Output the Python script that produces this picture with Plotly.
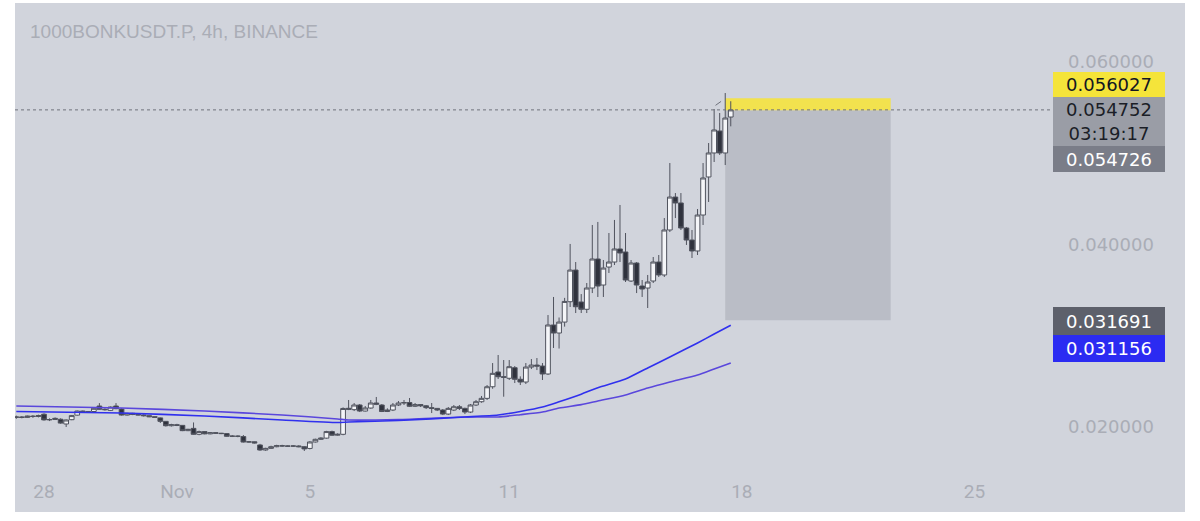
import pandas as pd
import plotly.graph_objects as go

# ---------------- data ----------------
times = pd.date_range("2024-10-27 04:00", periods=130, freq="4h")

opens = [0.02105,0.02110,0.02105,0.02120,0.02115,0.02140,0.02078,0.02082,0.02085,0.02033,
         0.02080,0.02130,0.02175,0.02166,0.02170,0.02230,0.02194,0.02182,0.02230,0.02197,
         0.02131,0.02150,0.02139,0.02132,0.02124,0.02113,0.02100,0.02062,0.02014,0.02025,
         0.02018,0.01960,0.01985,0.01920,0.01950,0.01925,0.01938,0.01932,0.01928,0.01898,
         0.01900,0.01895,0.01835,0.01838,0.01803,0.01748,0.01766,0.01784,0.01795,0.01792,
         0.01790,0.01792,0.01784,0.01765,0.01836,0.01865,0.01878,0.01950,0.01910,0.01920,
         0.02205,0.02190,0.02241,0.02175,0.02208,0.02263,0.02241,0.02170,0.02186,0.02241,
         0.02263,0.02268,0.02227,0.02246,0.02232,0.02212,0.02204,0.02186,0.02142,0.02186,
         0.02222,0.02204,0.02164,0.02241,0.02277,0.02314,0.02441,0.02603,0.02551,0.02534,
         0.02650,0.02523,0.02493,0.02657,0.02679,0.02668,0.02581,0.03118,0.03030,0.03150,
         0.03373,0.03720,0.03370,0.03290,0.03523,0.03841,0.03556,0.03753,0.03808,0.03951,
         0.03918,0.03600,0.03797,0.03545,0.03523,0.03600,0.03808,0.03666,0.04159,0.04520,
         0.04455,0.04181,0.04049,0.03929,0.04323,0.04740,0.05003,0.05244,0.05003,0.05397]
highs = [0.02125,0.02120,0.02125,0.02130,0.02135,0.02150,0.02095,0.02105,0.02095,0.02082,
         0.02130,0.02180,0.02180,0.02175,0.02215,0.02262,0.02205,0.02225,0.02262,0.02205,
         0.02155,0.02155,0.02140,0.02140,0.02126,0.02115,0.02105,0.02065,0.02035,0.02035,
         0.02022,0.01980,0.02050,0.01960,0.01955,0.01945,0.01940,0.01935,0.01932,0.01910,
         0.01908,0.01912,0.01845,0.01840,0.01815,0.01772,0.01795,0.01805,0.01805,0.01798,
         0.01800,0.01800,0.01790,0.01845,0.01872,0.01888,0.01958,0.01960,0.01930,0.02215,
         0.02296,0.02263,0.02252,0.02230,0.02296,0.02329,0.02252,0.02205,0.02263,0.02285,
         0.02296,0.02318,0.02263,0.02252,0.02241,0.02263,0.02208,0.02197,0.02219,0.02241,
         0.02241,0.02212,0.02252,0.02296,0.02340,0.02460,0.02701,0.02789,0.02734,0.02734,
         0.02668,0.02555,0.02701,0.02745,0.02756,0.02701,0.03227,0.03425,0.03200,0.03415,
         0.04006,0.03808,0.03457,0.03578,0.04214,0.04247,0.03830,0.04126,0.04269,0.04433,
         0.04126,0.03830,0.03808,0.03611,0.03666,0.03863,0.03885,0.04290,0.04893,0.04564,
         0.04564,0.04192,0.04159,0.04389,0.04893,0.05112,0.05485,0.05441,0.05660,0.05570]
lows =  [0.02090,0.02095,0.02100,0.02100,0.02105,0.02070,0.02065,0.02080,0.02035,0.02000,
         0.02075,0.02125,0.02160,0.02160,0.02165,0.02190,0.02180,0.02175,0.02195,0.02125,
         0.02125,0.02130,0.02128,0.02115,0.02108,0.02100,0.02044,0.02005,0.02005,0.02010,
         0.01955,0.01955,0.01915,0.01910,0.01920,0.01920,0.01925,0.01922,0.01893,0.01890,
         0.01888,0.01830,0.01830,0.01820,0.01740,0.01740,0.01760,0.01778,0.01785,0.01785,
         0.01782,0.01778,0.01737,0.01755,0.01830,0.01858,0.01872,0.01905,0.01905,0.01910,
         0.02185,0.02175,0.02164,0.02170,0.02200,0.02240,0.02164,0.02164,0.02175,0.02230,
         0.02241,0.02219,0.02219,0.02219,0.02197,0.02153,0.02175,0.02131,0.02131,0.02175,
         0.02186,0.02142,0.02153,0.02230,0.02266,0.02296,0.02419,0.02526,0.02332,0.02515,
         0.02482,0.02460,0.02471,0.02635,0.02624,0.02515,0.02570,0.02866,0.02860,0.03100,
         0.03315,0.03249,0.03249,0.03249,0.03468,0.03425,0.03425,0.03688,0.03775,0.03808,
         0.03589,0.03589,0.03468,0.03425,0.03304,0.03578,0.03644,0.03644,0.04137,0.04290,
         0.04159,0.03995,0.03852,0.03885,0.04214,0.04466,0.04904,0.04981,0.04871,0.05295]
closes = [0.02110,0.02105,0.02120,0.02115,0.02125,0.02078,0.02082,0.02095,0.02043,0.02077,
          0.02125,0.02175,0.02166,0.02168,0.02205,0.02194,0.02190,0.02219,0.02201,0.02131,
          0.02150,0.02139,0.02132,0.02124,0.02113,0.02106,0.02062,0.02014,0.02025,0.02018,
          0.01960,0.01975,0.01920,0.01950,0.01925,0.01938,0.01932,0.01928,0.01898,0.01900,
          0.01898,0.01835,0.01838,0.01825,0.01748,0.01766,0.01784,0.01795,0.01792,0.01790,
          0.01792,0.01784,0.01760,0.01836,0.01865,0.01878,0.01950,0.01910,0.01920,0.02203,
          0.02195,0.02241,0.02175,0.02208,0.02263,0.02250,0.02170,0.02186,0.02241,0.02263,
          0.02268,0.02227,0.02246,0.02232,0.02212,0.02204,0.02186,0.02142,0.02204,0.02222,
          0.02204,0.02164,0.02241,0.02277,0.02314,0.02441,0.02588,0.02551,0.02545,0.02661,
          0.02523,0.02493,0.02657,0.02679,0.02668,0.02581,0.03118,0.03030,0.03150,0.03376,
          0.03720,0.03318,0.03290,0.03523,0.03841,0.03545,0.03742,0.03808,0.03951,0.03907,
          0.03611,0.03797,0.03556,0.03512,0.03589,0.03808,0.03666,0.04159,0.04520,0.04455,
          0.04181,0.04049,0.03929,0.04323,0.04729,0.05003,0.05255,0.05003,0.05386,0.054752]

ma_times = ["2024-10-27 04:00","2024-10-30 08:00","2024-11-01 20:00","2024-11-04 04:00",
            "2024-11-05 20:00","2024-11-06 04:00","2024-11-07 16:00","2024-11-09 16:00",
            "2024-11-10 16:00","2024-11-11 08:00","2024-11-12 00:00","2024-11-12 12:00",
            "2024-11-13 04:00","2024-11-13 16:00","2024-11-14 12:00","2024-11-15 04:00",
            "2024-11-15 20:00","2024-11-16 16:00","2024-11-17 04:00","2024-11-17 16:00"]
ma_fast = [0.02170,0.02153,0.02121,0.02077,0.02049,0.02055,0.02071,0.02110,0.02132,
           0.02170,0.02219,0.02277,0.02360,0.02431,0.02526,0.02647,0.02767,0.02921,
           0.03019,0.031156]
ma_slow = [0.02230,0.02208,0.02175,0.02132,0.02088,0.02077,0.02082,0.02110,0.02110,
           0.02135,0.02164,0.02208,0.02245,0.02285,0.02351,0.02427,0.02493,0.02570,
           0.02636,0.02701]

last_price = 0.054752
countdown = "03:19:17"
entry_price = 0.054726
stop_price = 0.056027
target_price = 0.031691
pos_start = "2024-11-17 12:00"
pos_end = "2024-11-22 11:30"

x_tick_vals = ["2024-10-28", "2024-11-01", "2024-11-05", "2024-11-11", "2024-11-18", "2024-11-25"]
x_tick_text = ["28", "Nov", "5", "11", "18", "25"]
y_tick_vals = [0.02, 0.04, 0.06]
y_tick_text = ["0.020000", "0.040000", "0.060000"]

title_text = "1000BONKUSDT.P, 4h, BINANCE"

# ---------------- figure ----------------
BG = "#d1d4dc"
TXT = "#aaadb6"
LABEL_FONT = "DejaVu Sans"

fig = go.Figure()

fig.add_trace(go.Candlestick(
    x=times, open=opens, high=highs, low=lows, close=closes,
    increasing=dict(fillcolor="#f4f5f8", line=dict(color="#50535e", width=1)),
    decreasing=dict(fillcolor="#2f323d", line=dict(color="#50535e", width=1)),
    whiskerwidth=0, hoverinfo="skip", showlegend=False,
))

fig.add_trace(go.Scatter(x=ma_times, y=ma_slow, mode="lines",
                         line=dict(color="#5a47dc", width=1.6, shape="spline", smoothing=0.6),
                         hoverinfo="skip", showlegend=False))
fig.add_trace(go.Scatter(x=ma_times, y=ma_fast, mode="lines",
                         line=dict(color="#3030ee", width=1.6, shape="spline", smoothing=0.6),
                         hoverinfo="skip", showlegend=False))

L, R, T, B = 15, 150, 3, 49
W, H = 1200, 521
pw = W - L - R
ph = H - T - B

shapes = [
    # chart background panel (covers axis strips too)
    dict(type="rect", xref="paper", yref="paper", x0=0, x1=(1185 - L) / pw,
         y0=-(512 - (H - B)) / ph, y1=1.0, fillcolor=BG, line=dict(width=0), layer="below"),
    # position tool: target zone
    dict(type="rect", xref="x", yref="y", x0=pos_start, x1=pos_end,
         y0=target_price, y1=entry_price, fillcolor="#babdc6", line=dict(width=0), layer="below"),
    # position tool: stop zone
    dict(type="rect", xref="x", yref="y", x0=pos_start, x1=pos_end,
         y0=entry_price, y1=stop_price, fillcolor="#f2e24e", line=dict(width=0), layer="below"),
    # last price dotted line
    dict(type="line", xref="paper", yref="y", x0=0, x1=1, y0=last_price, y1=last_price,
         line=dict(color="#6f727c", width=1, dash="dot"), layer="above"),
    # small dashed drawing near the top
    dict(type="line", xref="x", yref="y", x0="2024-11-17 05:00", x1="2024-11-17 09:00",
         y0=0.05525, y1=0.05568, line=dict(color="#6f727c", width=1, dash="dash"), layer="above"),
]

def label(val, text, bg, fg, height, yshift):
    return dict(xref="paper", yref="y", x=(1053 - L) / pw, y=val, xanchor="left",
                yanchor="middle", yshift=yshift, text=text, showarrow=False,
                bgcolor=bg, width=112, height=height, borderpad=0, borderwidth=0,
                align="center", valign="middle",
                font=dict(family=LABEL_FONT, size=18, color=fg))

annotations = [
    label(stop_price, f"{stop_price:.6f}", "#f5e43a", "#131722", 25, 13.8),
    label(last_price, f"{last_price:.6f}<br>{countdown}", "#9a9da6", "#1b1e27", 49, -11.6),
    label(entry_price, f"{entry_price:.6f}", "#7a7d88", "#ffffff", 26, -49.3),
    label(target_price, f"{target_price:.6f}", "#5d606b", "#ffffff", 28, -0.7),
    label(ma_fast[-1], f"{ma_fast[-1]:.6f}", "#2b2bf2", "#ffffff", 27, -23.3),
]

fig.update_layout(
    width=W, height=H,
    margin=dict(l=L, r=R, t=T, b=B),
    paper_bgcolor="#ffffff",
    plot_bgcolor="rgba(0,0,0,0)",
    shapes=shapes,
    annotations=annotations,
    showlegend=False,
    hovermode=False,
    boxgap=0.15, boxgroupgap=0,
    title=dict(text=title_text, xref="container", yref="container",
               x=30 / W, xanchor="left", y=1 - 31.5 / H, yanchor="middle",
               font=dict(family="Liberation Sans", size=19, color=TXT)),
    xaxis=dict(
        type="date",
        range=["2024-10-27 03:03", "2024-11-27 06:34"],
        rangeslider=dict(visible=False),
        showgrid=False, zeroline=False, showline=False,
        tickmode="array", tickvals=x_tick_vals, ticktext=x_tick_text,
        ticks="", ticklabelstandoff=6,
        tickfont=dict(family="Roboto", size=19, color=TXT),
    ),
    yaxis=dict(
        side="right",
        range=[0.015069, 0.066466],
        showgrid=False, zeroline=False, showline=False,
        tickmode="array", tickvals=y_tick_vals, ticktext=y_tick_text,
        ticks="", ticklabelstandoff=17,
        tickfont=dict(family=LABEL_FONT, size=18, color=TXT),
    ),
)

fig.write_html("out.html", config={"displayModeBar": False},
               post_script="document.body.style.margin='0';document.body.style.overflow='hidden';")
